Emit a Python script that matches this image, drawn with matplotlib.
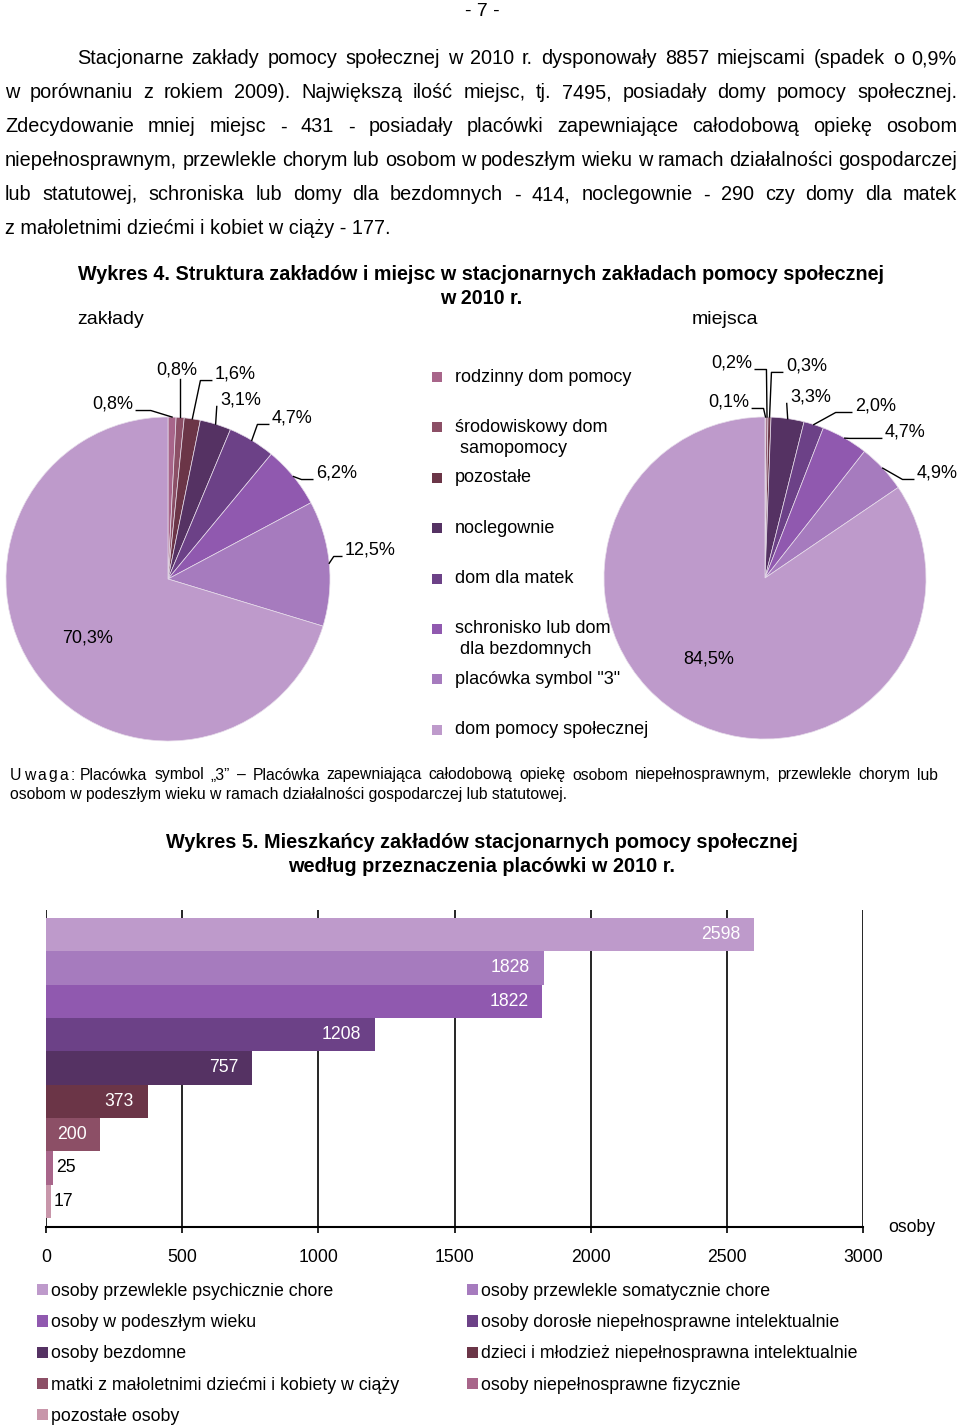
import numpy as np
import matplotlib
matplotlib.use('Agg')
import matplotlib.pyplot as plt
from matplotlib.patches import Patch, Rectangle

plt.rcParams['font.family'] = ['Liberation Sans', 'DejaVu Sans']

# ---- dane: wykres 4 ----
pie_labels = ['rodzinny dom pomocy', 'środowiskowy dom\n samopomocy', 'pozostałe',
              'noclegownie', 'dom dla matek', 'schronisko lub dom\n dla bezdomnych',
              'placówka symbol "3"', 'dom pomocy społecznej']
pie_colors = ['#a8658a', '#8c4f66', '#6b3547', '#553263', '#6c4187', '#9059af',
              '#a67bbe', '#be9acb']
zaklady_pct = [0.8, 0.8, 1.6, 3.1, 4.7, 6.2, 12.5, 70.3]
miejsca_pct = [0.1, 0.2, 0.3, 3.3, 2.0, 4.7, 4.9, 84.5]

# ---- dane: wykres 5 ----
bar_labels = ['osoby przewlekle psychicznie chore', 'osoby przewlekle somatycznie chore',
              'osoby w podeszłym wieku', 'osoby dorosłe niepełnosprawne intelektualnie',
              'osoby bezdomne', 'dzieci i młodzież niepełnosprawna intelektualnie',
              'matki z małoletnimi dziećmi i kobiety w ciąży',
              'osoby niepełnosprawne fizycznie', 'pozostałe osoby']
bar_values = [2598, 1828, 1822, 1208, 757, 373, 200, 25, 17]
bar_colors = ['#be9acb', '#a67bbe', '#9059af', '#6c4187', '#553263', '#6b3547',
              '#8c4f66', '#a8658a', '#c896aa']
bar_ticks = [0, 500, 1000, 1500, 2000, 2500, 3000]

body_lines = [
    'Stacjonarne zakłady pomocy społecznej w 2010 r. dysponowały 8857 miejscami (spadek o 0,9%',
    'w porównaniu z rokiem 2009). Największą ilość miejsc, tj. 7495, posiadały domy pomocy społecznej.',
    'Zdecydowanie mniej miejsc - 431 - posiadały placówki zapewniające całodobową opiekę osobom',
    'niepełnosprawnym, przewlekle chorym lub osobom w podeszłym wieku w ramach działalności gospodarczej',
    'lub statutowej,  schroniska lub domy dla bezdomnych - 414, noclegownie - 290 czy domy dla matek',
    'z małoletnimi dziećmi i kobiet w ciąży - 177.',
]

W, H = 960, 1426
fig = plt.figure(figsize=(W / 100, H / 100), dpi=100)
renderer = fig.canvas.get_renderer()


def fx(px):
    return px / W


def fy(py):
    return 1 - py / H


def justify(line, x0, x1, y, size, **kw):
    words = line.split()
    texts = [fig.text(0, fy(y), w, fontsize=size, va='center', **kw) for w in words]
    widths = [t.get_window_extent(renderer).width for t in texts]
    gap = (x1 - x0 - sum(widths)) / (len(words) - 1)
    x = x0
    for t, w in zip(texts, widths):
        t.set_x(fx(x))
        x += w + gap


# numer strony i tekst
fig.text(fx(482), fy(11), '- 7 -', ha='center', va='center', fontsize=14)
ys = [59, 93, 127, 161, 195, 229]
for i, line in enumerate(body_lines):
    if i == len(body_lines) - 1:
        fig.text(fx(5), fy(ys[i]), line, va='center', fontsize=14.3)
    else:
        justify(line, 77 if i == 0 else 5, 957, ys[i], 14.3)

# tytul wykresu 4
fig.text(fx(481), fy(275), 'Wykres 4. Struktura zakładów i miejsc w stacjonarnych zakładach pomocy społecznej',
         ha='center', va='center', fontsize=14.2, fontweight='bold')
fig.text(fx(481), fy(298), 'w 2010 r.', ha='center', va='center', fontsize=14.2, fontweight='bold')
fig.text(fx(77), fy(320), 'zakłady', va='center', fontsize=14)
fig.text(fx(692), fy(320), 'miejsca', va='center', fontsize=14)


def fmt(v):
    return f'{v:.1f}%'.replace('.', ',')


def draw_pie(ax, values, lbl_pos):
    wedges, _ = ax.pie(values, colors=pie_colors, startangle=90, counterclock=False,
                       radius=1, wedgeprops=dict(edgecolor='#e6dcea', linewidth=0.5))
    ax.set_xlim(-1, 1)
    ax.set_ylim(-1, 1)
    ax.set_aspect('equal')
    ax.axis('off')
    for w, v, (tx, ty, side, stub) in zip(wedges, values, lbl_pos):
        ang = np.deg2rad((w.theta1 + w.theta2) / 2)
        ex, ey = np.cos(ang), np.sin(ang)
        ha = {'l': 'left', 'r': 'right'}.get(side, 'center')
        ax.text(tx, ty, fmt(v), ha=ha, va='center', fontsize=13, clip_on=False)
        if side == 'in':
            continue
        if side == 'l':
            xs, yl = [tx - 0.02, tx - 0.02 - stub, ex], [ty - 0.04, ty - 0.04, ey]
        elif side == 'r':
            xs, yl = [tx + 0.02, tx + 0.02 + stub, ex], [ty - 0.04, ty - 0.04, ey]
        else:
            xs, yl = [ex, ex], [ty - 0.055, ey]
        ax.plot(xs, yl, color='black', lw=1, clip_on=False)


left_lbl = [(-0.216, 1.08, 'r', 0.09), (0.056, 1.29, 'b', 0), (0.29, 1.265, 'l', 0.07),
            (0.321, 1.105, 'l', 0.0), (0.642, 0.994, 'l', 0.07), (0.914, 0.654, 'l', 0.07),
            (1.093, 0.179, 'l', 0.05), (-0.494, -0.364, 'in', 0)]
right_lbl = [(-0.099, 1.093, 'r', 0.07), (-0.081, 1.335, 'r', 0.07), (0.130, 1.317, 'l', 0.07),
             (0.155, 1.124, 'l', 0.0), (0.559, 1.068, 'l', 0.1), (0.745, 0.907, 'l', 0.2),
             (0.944, 0.652, 'l', 0.07), (-0.348, -0.503, 'in', 0)]

ax1 = fig.add_axes([fx(6), fy(741), 324 / W, 324 / H])
draw_pie(ax1, zaklady_pct, left_lbl)
ax2 = fig.add_axes([fx(604), fy(739), 322 / W, 322 / H])
draw_pie(ax2, miejsca_pct, right_lbl)

# legenda wykresu 4
for i, (lab, col) in enumerate(zip(pie_labels, pie_colors)):
    y = 377 + i * 50.4
    fig.add_artist(Rectangle((fx(432), fy(y + 5)), 10 / W, 10 / H, transform=fig.transFigure,
                             facecolor=col, edgecolor='none'))
    for k, part in enumerate(lab.split('\n')):
        fig.text(fx(455), fy(y + k * 21), part, va='center', fontsize=13)

# uwaga (rozstrzelone litery)
x = 10
for ch in 'Uwaga:':
    t = fig.text(fx(x), fy(775), ch, va='center', fontsize=11.3)
    x += t.get_window_extent(renderer).width + 2.3
justify('Placówka symbol „3” – Placówka zapewniająca całodobową opiekę osobom '
        'niepełnosprawnym, przewlekle chorym lub', 80, 938, 775, 11.3)
fig.text(fx(10), fy(795), 'osobom w podeszłym wieku w ramach działalności gospodarczej lub statutowej.',
         va='center', fontsize=11.3)

# tytul wykresu 5
fig.text(fx(482), fy(843), 'Wykres 5. Mieszkańcy zakładów stacjonarnych pomocy społecznej',
         ha='center', va='center', fontsize=14.3, fontweight='bold')
fig.text(fx(482), fy(866), 'według przeznaczenia placówki w 2010 r.',
         ha='center', va='center', fontsize=14.3, fontweight='bold')

# wykres 5
ax3 = fig.add_axes([fx(46), fy(1227), (863 - 46) / W, (1227 - 910) / H])
pos = np.arange(len(bar_values))
bars = ax3.barh(pos, bar_values, height=1.0, color=bar_colors, edgecolor='none', zorder=2)
ax3.set_xlim(0, 3000)
ax3.set_ylim(8.77, -0.74)
ax3.set_xticks(bar_ticks)
ax3.set_xticklabels([str(t) for t in bar_ticks], fontsize=12.7)
ax3.set_yticks([])
ax3.xaxis.grid(True, color='black', lw=1.2, zorder=0)
ax3.set_axisbelow(True)
for s in ['top', 'left', 'right']:
    ax3.spines[s].set_visible(False)
ax3.spines['bottom'].set_linewidth(1.5)
ax3.tick_params(axis='x', direction='out', length=4, width=1.2, pad=12)
for b, v in zip(bars, bar_values):
    yc = b.get_y() + b.get_height() / 2
    if v >= 100:
        ax3.text(v - 50, yc, str(v), ha='right', va='center', color='white', fontsize=12.7)
    else:
        ax3.text(v + 12, yc, str(v), ha='left', va='center', color='black', fontsize=12.7)
fig.text(fx(912), fy(1228), 'osoby', ha='center', va='center', fontsize=12.7)

# legenda wykresu 5 (dwie kolumny)
handles = [Patch(facecolor=c, edgecolor='none', label=l) for c, l in zip(bar_colors, bar_labels)]
leg_kw = dict(frameon=False, fontsize=12.8, handlelength=0.6, handleheight=0.6, handletextpad=0.2,
              labelspacing=0.8, borderpad=0, borderaxespad=0, loc='upper left')
fig.legend(handles=handles[0::2], bbox_to_anchor=(fx(37), fy(1283)), **leg_kw)
fig.legend(handles=handles[1::2], bbox_to_anchor=(fx(467), fy(1283)), **leg_kw)

fig.savefig('out.png', dpi=100)
